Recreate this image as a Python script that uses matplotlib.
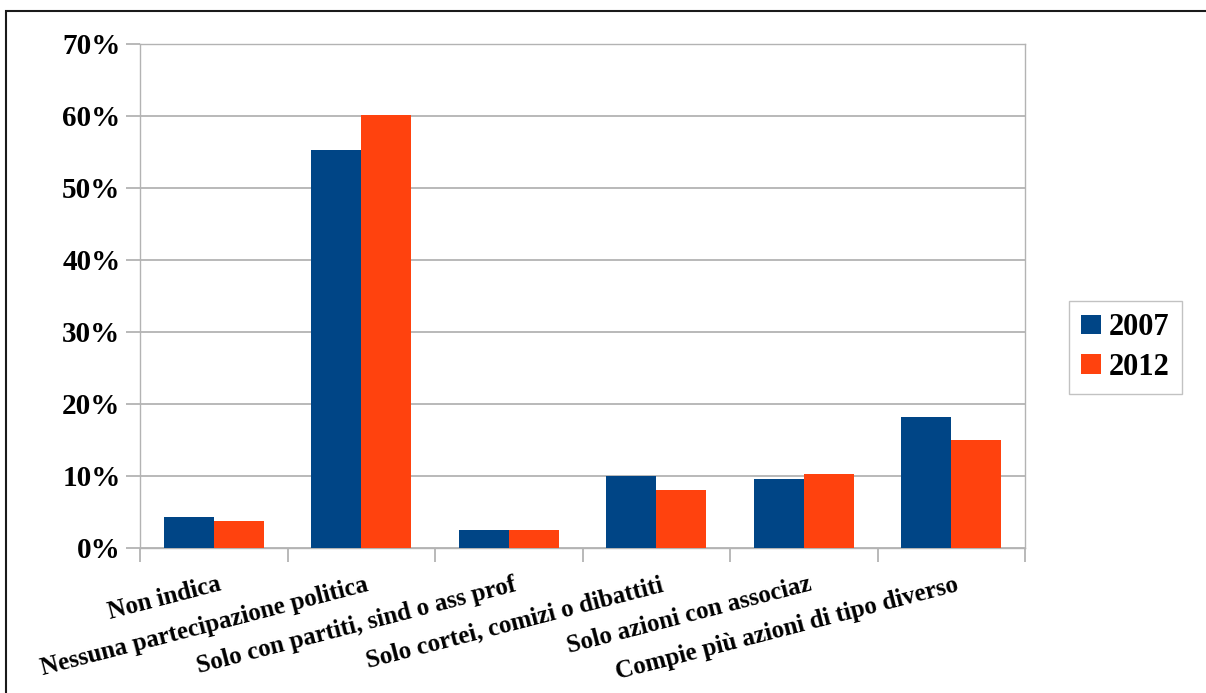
import matplotlib
matplotlib.use("Agg")
import matplotlib.pyplot as plt
import numpy as np
from matplotlib.patches import Rectangle
from matplotlib.ticker import PercentFormatter, MultipleLocator

categories = [
    "Non indica",
    "Nessuna partecipazione politica",
    "Solo con partiti, sind o ass prof",
    "Solo cortei, comizi o dibattiti",
    "Solo azioni con associaz",
    "Compie più azioni di tipo diverso",
]
series_names = ["2007", "2012"]
values_2007 = [4.3, 55.3, 2.5, 10.0, 9.6, 18.2]
values_2012 = [3.8, 60.1, 2.5, 8.1, 10.3, 15.0]
colors = ["#004586", "#ff420e"]

font = ["Liberation Serif", "DejaVu Serif"]

fig = plt.figure(figsize=(12.06, 6.93), dpi=100)
ax = fig.add_axes([140 / 1206, 1 - 548 / 693, 885 / 1206, 504 / 693])

x = np.arange(len(categories))
w = 0.34
ax.bar(x - w / 2, values_2007, width=w, color=colors[0], label=series_names[0], zorder=3)
ax.bar(x + w / 2, values_2012, width=w, color=colors[1], label=series_names[1], zorder=3)

ax.set_xlim(-0.5, len(categories) - 0.5)
ax.set_ylim(0, 70)
ax.yaxis.set_major_locator(MultipleLocator(10))
ax.yaxis.set_major_formatter(PercentFormatter(decimals=0))
ax.grid(axis="y", color="#b3b3b3", linewidth=1.3, zorder=0)

for s in ax.spines.values():
    s.set_color("#b3b3b3")
    s.set_linewidth(1.0)

# category boundaries as ticks on the x axis
ax.set_xticks(np.arange(-0.5, len(categories)))
ax.set_xticklabels([])
ax.tick_params(axis="x", length=10, width=1.3, color="#b3b3b3", direction="out")
ax.tick_params(axis="y", length=10, width=1.3, color="#b3b3b3", direction="out", pad=4)
for lbl in ax.get_yticklabels():
    lbl.set_family(font)
    lbl.set_fontweight("bold")
    lbl.set_fontsize(21)

# rotated category labels
for i, name in enumerate(categories):
    ax.annotate(name, xy=(i, 0), xycoords=("data", "axes fraction"),
                xytext=(4, -25), textcoords="offset pixels",
                rotation=14.5, rotation_mode="anchor", ha="right", va="top",
                family=font, fontweight="bold", fontsize=18)

leg = ax.legend(loc="center left", bbox_to_anchor=((1069 - 140) / 885, 0.398),
                frameon=True, fancybox=False, edgecolor="#b3b3b3",
                prop={"family": font, "weight": "bold", "size": 22},
                handlelength=0.65, handleheight=0.6, handletextpad=0.25,
                borderpad=0.4, labelspacing=0.35, borderaxespad=0)
leg.get_frame().set_linewidth(1.0)

# outer frame
fig.patches.append(Rectangle((6 / 1206, -0.05), 1.2, 1 - 11 / 693 + 0.05,
                             transform=fig.transFigure, fill=False,
                             edgecolor="#1a1a1a", linewidth=1.5))

fig.savefig("out.png", dpi=100)
